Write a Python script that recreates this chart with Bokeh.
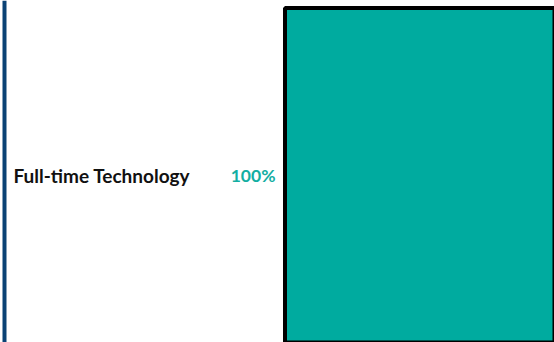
from bokeh.plotting import figure
from bokeh.models import Range1d, FactorRange, Span, ColumnDataSource
from bokeh.transform import dodge
from bokeh.core.properties import value
from bokeh.embed import file_html
from bokeh.resources import INLINE

categories = ["Full-time Technology"]
values = [100]
labels = ["100%"]

src = ColumnDataSource(dict(cat=categories, val=values, lab=labels,
                            zero=[0] * len(values)))

K = 2.905
X0 = -284.5 / K
p = figure(width=554, height=342, output_backend="svg", toolbar_location=None,
           y_range=FactorRange(factors=categories, range_padding=0),
           x_range=Range1d(X0, X0 + 554 / K), min_border=0)
p.axis.visible = False
p.grid.visible = False
p.outline_line_color = None
p.background_fill_color = "white"

p.hbar(y=dodge("cat", -0.013, range=p.y_range), left=0, right="val",
       height=0.9825, source=src,
       fill_color="#00AB9F", line_color="black", line_width=4)

p.add_layout(Span(location=X0 + 4 / K, dimension="height",
                  line_color="#0A4275", line_width=4))

p.text(x=X0, y="cat", text="cat", source=src, x_offset=13, y_offset=4,
       text_font=value("Lato"), text_font_style="bold", text_font_size="19px",
       text_baseline="middle", text_align="left", text_color="#111111")
p.text(x="zero", y="cat", text="lab", source=src, x_offset=-9.5, y_offset=4,
       text_font=value("Lato"), text_font_style="bold", text_font_size="17.5px",
       text_baseline="middle", text_align="right", text_color="#13AEA2")

open("out.html", "w").write(file_html(p, INLINE))
